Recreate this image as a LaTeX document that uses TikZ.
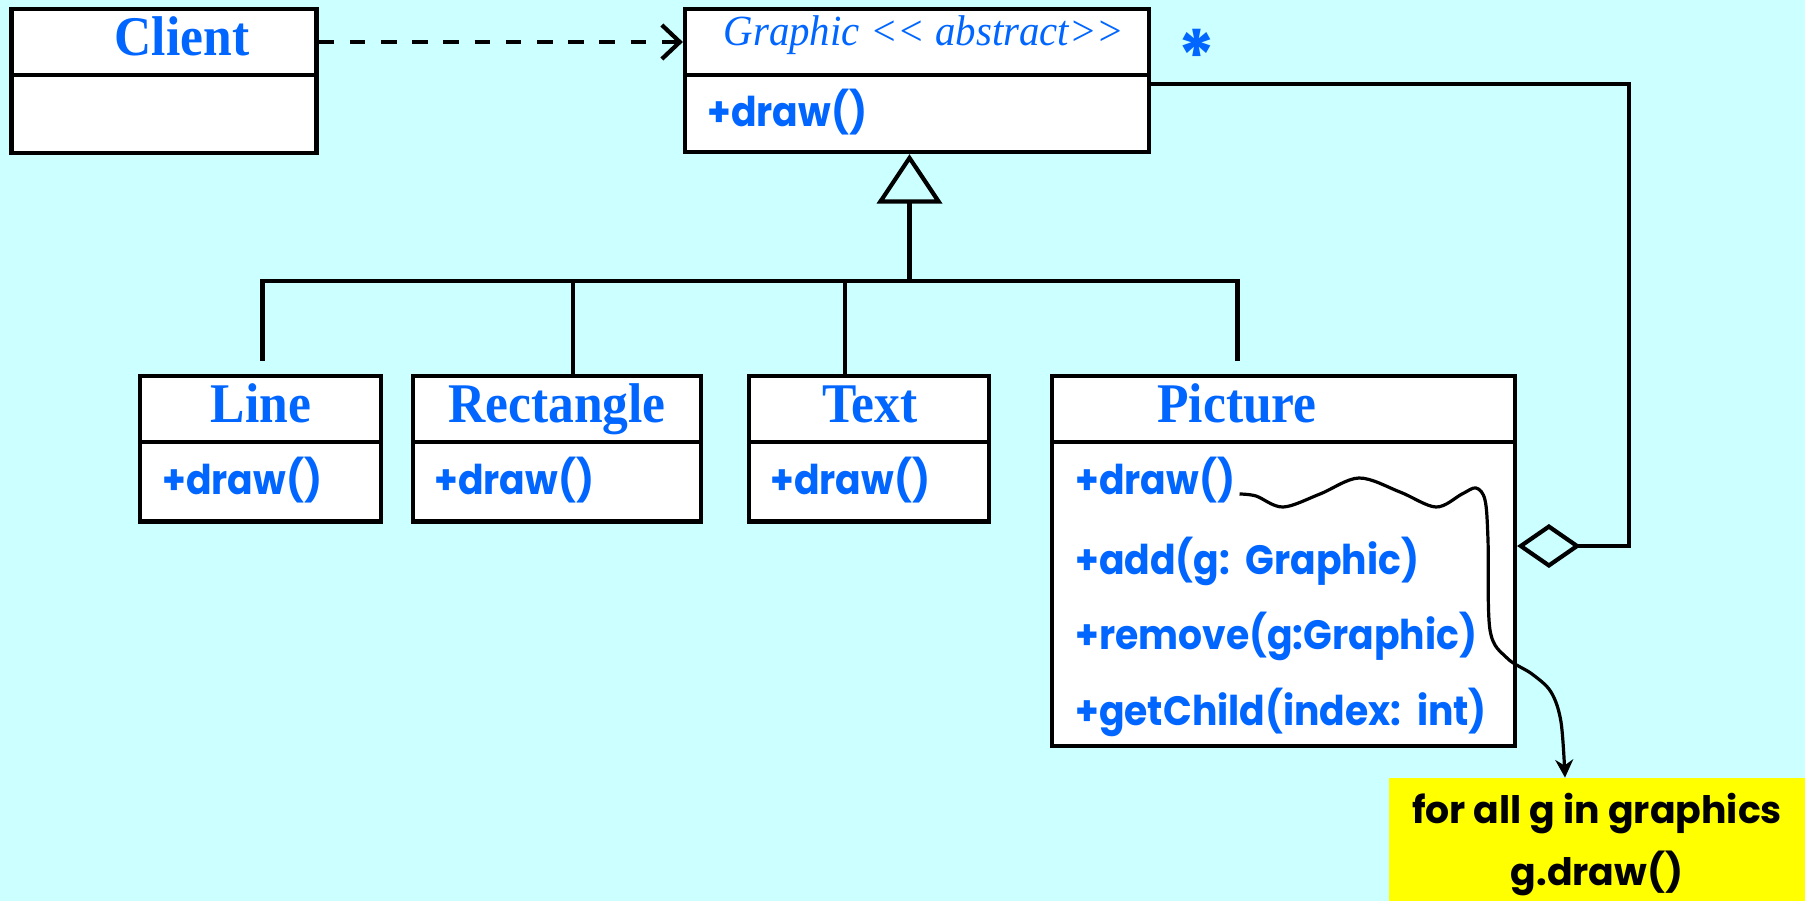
\documentclass[tikz,border=0pt]{standalone}
\usepackage{fontspec}
\setmainfont{Liberation Serif}
\newfontfamily\titlefont{Liberation Serif}[FakeStretch=0.92]
\newfontfamily\stereofont{Liberation Serif}[FakeStretch=0.95]
\newfontfamily\opfont{Poppins}[FakeStretch=0.92, WordSpace=1.6]
\newfontfamily\notefont{Poppins}
\usetikzlibrary{fit,arrows.meta}
\definecolor{bgcyan}{RGB}{204,255,255}
\definecolor{umlblue}{RGB}{0,102,255}
\definecolor{noteyellow}{RGB}{255,255,0}
\tikzset{
  part/.style={draw=black, line width=2.1pt, fill=white, inner sep=0pt},
  classname/.style={font=\titlefont\bfseries\fontsize{28}{28}\selectfont, text=umlblue, anchor=base, inner sep=0pt},
  op/.style={font=\opfont\bfseries\fontsize{20.5}{20.5}\selectfont, text=umlblue, anchor=base west, inner sep=0pt},
  notetext/.style={font=\notefont\bfseries\fontsize{18.9}{18.9}\selectfont, text=black, anchor=base, inner sep=0pt},
  link/.style={line width=2.1pt, draw=black},
}
\begin{document}
\begin{tikzpicture}[x=0.5pt,y=-0.5pt]
% canvas
\fill[bgcyan] (0,0) rectangle (1805,901);
\useasboundingbox (0,0) rectangle (1805,901);

% Client
\node[part, fit={(11.5,9) (316.5,75)}] (clientH) {};
\node[part, fit={(11.5,75) (316.5,153)}] (clientB) {};
\node[classname] (clientN) at (182,55) {Client};

% Graphic (abstract)
\node[part, fit={(685,9) (1149,75)}] (graphicH) {};
\node[part, fit={(685,75) (1149,152)}] (graphicB) {};
\node[font=\stereofont\itshape\fontsize{21.5}{21.5}\selectfont, text=umlblue, anchor=base, inner sep=0pt] (graphicN) at (924,45) {Graphic <\kern0pt< abstract>\kern0pt>};
\node[op] (graphicOp) at (707,126) {+draw()};
\node[font=\notefont\bfseries\fontsize{36}{36}\selectfont, text=umlblue, anchor=base, inner sep=0pt] (mult) at (1197,82) {*};

% Line
\node[part, fit={(140,376) (381,442)}] (lineH) {};
\node[part, fit={(140,442) (381,521.5)}] (lineB) {};
\node[classname] (lineN) at (261,422.5) {Line};
\node[op] (lineOp) at (162,494) {+draw()};

% Rectangle
\node[part, fit={(413,376) (701,442)}] (rectH) {};
\node[part, fit={(413,442) (701,521.5)}] (rectB) {};
\node[classname] (rectN) at (557,422.5) {Rectangle};
\node[op] (rectOp) at (434,494) {+draw()};

% Text
\node[part, fit={(749,376) (989,442)}] (textH) {};
\node[part, fit={(749,442) (989,521.5)}] (textB) {};
\node[classname] (textN) at (870,422.5) {Text};
\node[op] (textOp) at (770,494) {+draw()};

% Picture (composite)
\node[part, fit={(1052,376) (1515,442)}] (picH) {};
\node[part, fit={(1052,442) (1515,746)}] (picB) {};
\node[classname] (picN) at (1237,422) {Picture};
\node[op] (pOp1) at (1075,494) {+draw()};
\node[op] (pOp2) at (1075,574) {+add(g: Graphic)};
\node[op] (pOp3) at (1075,649) {+remove(g:Graphic)};
\node[op] (pOp4) at (1075,725) {+getChild(index: int)};

% note
\node[fill=noteyellow, inner sep=0pt, fit={(1389,778) (1805,901)}] (note) {};
\node[notetext] (noteL1) at (1597,823) {for all g in graphics};
\node[notetext] (noteL2) at (1597,885) {g.draw()};

% dependency Client -> Graphic
\draw[link, dash pattern=on 7.8pt off 7.8pt, -{Straight Barb[length=9pt,width=17pt]}] (clientH.east) -- (graphicH.west);

% generalization tree
\coordinate (hub) at (909.5,281);
\coordinate (dLine) at (262.5,361);
\coordinate (dRect) at (573,281);
\coordinate (dText) at (845,281);
\coordinate (dPic) at (1237.5,361);
\draw[link, -{Triangle[open, length=24.75pt, width=32.5pt]}] (hub) -- (hub |- graphicB.south);
\draw[link] (dLine) |- (dPic |- hub) -- (dPic);
\draw[link] (dRect) -- (rectH.north -| dRect);
\draw[link] (dText) -- (textH.north -| dText);

% aggregation Picture <>-- Graphic
\coordinate (aggCorner) at (1629,546);
\draw[link, -{Diamond[open, length=31.8pt, width=22pt]}] ([yshift=-3.35pt]graphicH.south east) -| (aggCorner) -- (picB.east |- aggCorner);

% note link from draw()
\coordinate (tip) at (1565,0);
\draw[line width=1.6pt, -{Stealth[length=9pt,width=9pt]}] plot[smooth, tension=0.55] coordinates {
  ([xshift=2pt]pOp1.base east) (1256,496) (1283,507) (1320,494) (1359,478) (1400,492) (1436,507)
  (1462,494) (1476,488) (1485,500) (1488,540) (1490,630) (1507,658) (1532,674) (1551,692)
  (1561,722) (note.north -| tip)};
\end{tikzpicture}
\end{document}
